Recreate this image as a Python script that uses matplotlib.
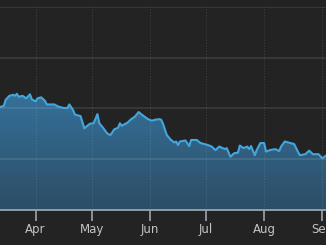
import numpy as np
import pandas as pd
import matplotlib
matplotlib.use("Agg")
import matplotlib.pyplot as plt
import matplotlib.dates as mdates
from matplotlib.patches import Polygon

# price series (2016 dates)
dates = ["2016-03-13", "2016-03-15", "2016-03-16", "2016-03-18", "2016-03-20", "2016-03-21",
         "2016-03-22", "2016-03-23", "2016-03-25", "2016-03-27", "2016-03-29", "2016-03-30",
         "2016-04-01", "2016-04-02", "2016-04-04", "2016-04-06", "2016-04-07", "2016-04-09",
         "2016-04-11", "2016-04-13", "2016-04-14", "2016-04-16", "2016-04-18", "2016-04-19",
         "2016-04-21", "2016-04-22", "2016-04-25", "2016-04-27", "2016-04-29", "2016-04-30",
         "2016-05-02", "2016-05-04", "2016-05-05", "2016-05-07", "2016-05-09", "2016-05-10",
         "2016-05-11", "2016-05-13", "2016-05-15", "2016-05-16", "2016-05-17", "2016-05-20",
         "2016-05-22", "2016-05-24", "2016-05-26", "2016-05-28", "2016-05-31", "2016-06-02",
         "2016-06-04", "2016-06-06", "2016-06-07", "2016-06-08", "2016-06-10", "2016-06-12",
         "2016-06-14", "2016-06-15", "2016-06-16", "2016-06-17", "2016-06-20", "2016-06-22",
         "2016-06-23", "2016-06-26", "2016-06-28", "2016-07-02", "2016-07-04", "2016-07-06",
         "2016-07-08", "2016-07-11", "2016-07-12", "2016-07-14", "2016-07-16", "2016-07-18",
         "2016-07-19", "2016-07-21", "2016-07-23", "2016-07-24", "2016-07-25", "2016-07-27",
         "2016-07-28", "2016-07-30", "2016-08-01", "2016-08-02", "2016-08-04", "2016-08-07",
         "2016-08-09", "2016-08-10", "2016-08-12", "2016-08-15", "2016-08-17", "2016-08-19",
         "2016-08-20", "2016-08-23", "2016-08-25", "2016-08-27", "2016-08-30", "2016-09-01",
         "2016-09-03"]
prices = [20.3, 20.5, 21.7, 22.5, 22.7, 22.5, 22.9, 22.3, 22.5, 22.0, 22.8, 21.8,
          21.4, 22.0, 22.2, 21.5, 20.8, 20.8, 20.8, 20.4, 20.3, 20.1, 20.1, 20.8,
          19.7, 18.8, 18.5, 16.1, 16.7, 17.0, 17.1, 18.9, 17.1, 16.2, 15.2, 14.9,
          14.8, 15.9, 16.2, 17.1, 16.6, 17.2, 17.9, 18.4, 19.3, 18.7, 17.9, 17.6,
          17.8, 17.9, 17.8, 17.0, 14.8, 13.9, 13.3, 13.5, 12.8, 13.5, 13.7, 12.6,
          13.8, 13.8, 13.2, 12.8, 12.5, 11.8, 12.5, 12.0, 12.2, 10.5, 11.2, 11.3,
          12.7, 12.2, 12.5, 12.0, 12.6, 10.8, 11.8, 13.2, 13.2, 11.5, 11.8, 12.0,
          11.6, 12.5, 13.5, 13.2, 13.0, 11.5, 10.8, 11.0, 11.7, 11.0, 11.0, 10.2,
          10.7]
month_ticks = ["2016-04-01", "2016-05-01", "2016-06-01", "2016-07-01", "2016-08-01", "2016-09-01"]
month_labels = ["Apr", "May", "Jun", "Jul", "Aug", "Sep"]
grid_levels = [10, 20, 30, 40]

bg = "#232323"
x = mdates.date2num(pd.to_datetime(dates))
y = np.array(prices)

fig = plt.figure(figsize=(3.26, 2.45), dpi=100, facecolor=bg)
ax = fig.add_axes([0, 35 / 245, 1, 203 / 245])
ax.set_facecolor(bg)
ax.set_xlim(x[0], x[-1])
ax.set_ylim(0, 40)

# gradient fill under the line
verts = [(x[0], 0)] + list(zip(x, y)) + [(x[-1], 0)]
poly = Polygon(verts, closed=True, facecolor="none", edgecolor="none")
ax.add_patch(poly)
grad = np.linspace(0, 1, 256).reshape(-1, 1)
cmap = matplotlib.colors.LinearSegmentedColormap.from_list("f", ["#2c4d66", "#35719a"])
im = ax.imshow(grad, cmap=cmap, aspect="auto", origin="lower",
               extent=[x[0], x[-1], 0, y.max()], zorder=1)
im.set_clip_path(poly)

ax.plot(x, y, color="#43a6dc", lw=1.5, zorder=3, solid_joinstyle="round")

# grid lines
for g in grid_levels:
    ax.axhline(g, color="white", alpha=0.1, lw=1.3, zorder=2)
ax.axhline(0, color="#9aa4ae", lw=1.3, zorder=4, clip_on=False)
tick_x = mdates.date2num(pd.to_datetime(month_ticks))
for tx in tick_x:
    ax.axvline(tx, color="white", alpha=0.12, lw=0.8, ls=(0, (1, 1.5)), zorder=2)

ax.set_xticks(tick_x)
ax.set_xticklabels(month_labels)
ax.set_yticks([])
ax.tick_params(axis="x", colors="#9aa4ae", length=8, width=1.2, pad=1.5,
               labelsize=8.5, labelcolor="#c4c4c4")
for s in ax.spines.values():
    s.set_visible(False)

fig.savefig("out.png", dpi=100, facecolor=bg)
